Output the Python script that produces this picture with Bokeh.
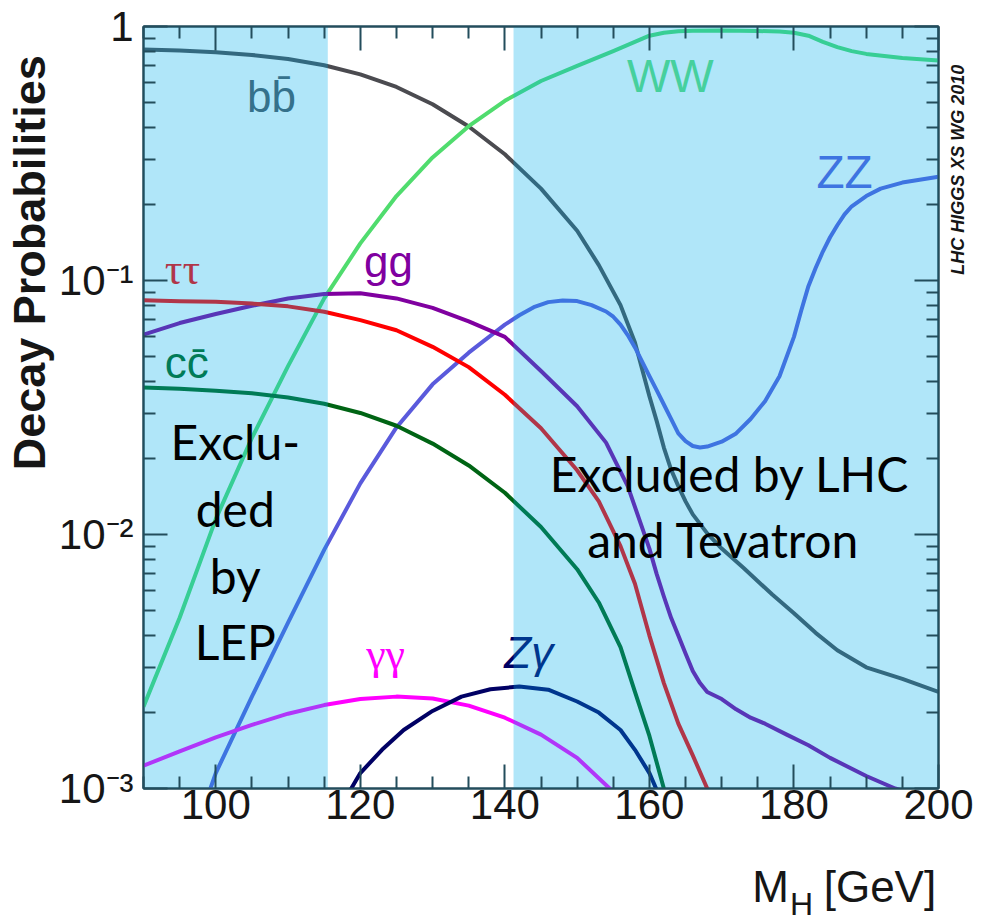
import math
from bokeh.plotting import figure
from bokeh.models import FixedTicker, LinearAxis, LogAxis, CustomJSTickFormatter
from bokeh.core.properties import value
from bokeh.embed import file_html
from bokeh.resources import INLINE

# ---------------- data ----------------
x_ticks = [100, 120, 140, 160, 180, 200]
x_minor = [90, 95, 105, 110, 115, 125, 130, 135, 145, 150, 155, 165, 170, 175, 185, 190, 195]
y_ticks = [0.001, 0.01, 0.1, 1.0]
y_minor = [0.002, 0.003, 0.004, 0.005, 0.006, 0.007, 0.008, 0.009,
           0.02, 0.03, 0.04, 0.05, 0.06, 0.07, 0.08, 0.09,
           0.2, 0.3, 0.4, 0.5, 0.6, 0.7, 0.8, 0.9]
y_tick_labels = ["10\u207b\u00b3", "10\u207b\u00b2", "10\u207b\u00b9", "1"]

lep_excluded = [90.0, 115.5]
lhc_excluded = [141.2, 200.0]

bb_m = [90, 95, 100, 105, 110, 115, 120, 125, 130, 135, 140, 145, 150, 153, 156, 158, 160,
        161, 162, 163, 164, 165, 166, 168, 170, 173, 177, 180, 183, 186, 190, 195, 200]
bb_br = [0.812, 0.804, 0.791, 0.773, 0.745, 0.704, 0.648, 0.578, 0.494, 0.404, 0.314, 0.230,
         0.157, 0.115, 0.080, 0.057, 0.035, 0.028, 0.022, 0.018, 0.0155, 0.0135, 0.0120,
         0.0101, 0.0088, 0.0074, 0.0058, 0.0049, 0.0041, 0.0035, 0.0030, 0.0027, 0.0024]

tau_m = [90, 95, 100, 105, 110, 115, 120, 125, 130, 135, 140, 145, 150, 153, 156, 158, 160,
         162, 164, 166, 168, 170, 175]
tau_br = [0.0837, 0.0829, 0.0825, 0.0811, 0.0791, 0.0753, 0.0698, 0.0637, 0.0548, 0.0456,
          0.0355, 0.0262, 0.0179, 0.0135, 0.0090, 0.0064, 0.0040, 0.0026, 0.0018, 0.00135,
          0.00100, 0.00090, 0.00075]

cc_m = [90, 95, 100, 105, 110, 115, 120, 125, 130, 135, 140, 145, 150, 153, 156, 158, 160, 162, 164]
cc_br = [0.0379, 0.0375, 0.0368, 0.0360, 0.0346, 0.0327, 0.0301, 0.0268, 0.0228, 0.0187,
         0.0146, 0.0107, 0.0073, 0.0054, 0.0036, 0.0024, 0.00161, 0.00100, 0.00062]

gg_m = [90, 95, 100, 105, 110, 115, 120, 125, 130, 135, 140, 145, 150, 154, 157, 160, 161,
        162, 163, 164, 165, 166, 167, 168, 170, 172, 174, 176, 179, 182, 185, 190, 194, 200]
gg_br = [0.0612, 0.0680, 0.0738, 0.0795, 0.0850, 0.0885, 0.0890, 0.0850, 0.0780, 0.0690,
         0.0600, 0.0440, 0.0320, 0.0230, 0.0155, 0.0088, 0.0070, 0.0057, 0.0047, 0.0040,
         0.0034, 0.0029, 0.0026, 0.0024, 0.00225, 0.00205, 0.0019, 0.0018, 0.00163,
         0.00148, 0.00132, 0.00112, 0.00100, 0.00088]

ww_m = [90, 95, 100, 105, 110, 115, 120, 125, 130, 135, 140, 145, 150, 155, 160, 162, 164,
        166, 170, 175, 178, 180, 182, 184, 186, 188, 190, 195, 200]
ww_br = [0.0021, 0.0047, 0.0115, 0.024, 0.046, 0.085, 0.140, 0.215, 0.305, 0.405, 0.51, 0.61,
         0.70, 0.80, 0.92, 0.945, 0.958, 0.963, 0.965, 0.96, 0.955, 0.945, 0.92, 0.87, 0.83,
         0.80, 0.78, 0.752, 0.735]

zz_m = [95, 100, 105, 110, 115, 120, 125, 130, 135, 140, 142, 144, 146, 148, 150, 152, 154,
        155, 156, 157, 158, 160, 161, 162, 163, 164, 165, 166, 167, 168, 170, 172, 174, 176,
        178, 180, 181, 182, 183, 184, 185, 186, 187, 188, 190, 192, 195, 200]
zz_br = [0.00045, 0.00115, 0.0023, 0.0045, 0.0087, 0.0159, 0.0264, 0.039, 0.052, 0.067,
         0.073, 0.0785, 0.0822, 0.0835, 0.0830, 0.0800, 0.0755, 0.0720, 0.0670, 0.0610,
         0.0545, 0.0420, 0.0370, 0.0325, 0.0285, 0.0250, 0.0233, 0.0223, 0.0220, 0.0222,
         0.0232, 0.0250, 0.0285, 0.0335, 0.042, 0.060, 0.076, 0.095, 0.112, 0.130, 0.148,
         0.165, 0.182, 0.196, 0.215, 0.230, 0.243, 0.256]

gaga_m = [90, 95, 100, 105, 110, 115, 120, 125, 130, 135, 140, 145, 150, 155, 158]
gaga_br = [0.00123, 0.00140, 0.00159, 0.00178, 0.00197, 0.00213, 0.00225, 0.00230, 0.00226,
           0.00212, 0.00190, 0.00163, 0.00132, 0.00097, 0.00075]

za_m = [115, 118, 120, 123, 126, 130, 134, 138, 142, 146, 150, 153, 156, 158, 160, 162]
za_br = [0.00060, 0.00092, 0.00115, 0.00142, 0.00170, 0.00202, 0.00230, 0.00246, 0.00252,
         0.00245, 0.00220, 0.00199, 0.00170, 0.00142, 0.00115, 0.00085]

# ---------------- styling ----------------
AX = "#234d5c"
SANS = "Liberation Sans"
SERIF = "Liberation Serif"
TXT = "#161616"

p = figure(width=981, height=924, y_axis_type="log", x_range=(90, 200), y_range=(1e-3, 1),
           output_backend="svg", toolbar_location=None,
           min_border_left=143, min_border_right=43, min_border_top=26, min_border_bottom=135)
p.xgrid.visible = False
p.ygrid.visible = False
p.background_fill_color = "white"
p.border_fill_color = "white"
p.outline_line_color = AX
p.outline_line_width = 2

bottom = p.below[0]
left = p.left[0]

xt = FixedTicker(ticks=x_ticks, minor_ticks=x_minor)
yt = FixedTicker(ticks=y_ticks, minor_ticks=y_minor)

def label_fmt(ticks, labels):
    return CustomJSTickFormatter(args=dict(ts=ticks, ls=labels), code="""
let best = -1, d = Infinity;
for (let i = 0; i < ts.length; i++) {
  const di = Math.abs(Math.log(ts[i]) - Math.log(tick));
  if (di < d) { d = di; best = i; }
}
return (best >= 0 && d < 1e-6) ? ls[best] : '';
""")

def lin_fmt(ticks, labels):
    return CustomJSTickFormatter(args=dict(ts=ticks, ls=labels), code="""
let best = -1, d = Infinity;
for (let i = 0; i < ts.length; i++) {
  const di = Math.abs(ts[i] - tick);
  if (di < d) { d = di; best = i; }
}
return (best >= 0 && d < 1e-6) ? ls[best] : '';
""")

blank = CustomJSTickFormatter(code="return '';")

top = LinearAxis()
right = LogAxis()
p.add_layout(top, "above")
p.add_layout(right, "right")

for ax in [bottom, left, top, right]:
    ax.axis_line_color = AX
    ax.axis_line_width = 2
    ax.major_tick_line_color = AX
    ax.minor_tick_line_color = AX
    ax.major_tick_line_width = 2
    ax.minor_tick_line_width = 2
    ax.major_tick_in = 24
    ax.major_tick_out = 0
    ax.minor_tick_in = 12
    ax.minor_tick_out = 0
    ax.major_label_text_font = SANS
    ax.major_label_text_font_size = "42px"
    ax.major_label_text_color = TXT

bottom.ticker = xt
top.ticker = xt
left.ticker = yt
right.ticker = yt
left.formatter = label_fmt(y_ticks, y_tick_labels)
bottom.major_label_standoff = 1
left.major_label_standoff = 10
for ax in [top, right]:
    ax.formatter = blank
    ax.major_label_standoff = 0
    ax.major_label_text_font_size = "1px"

def text_axis(cls, ticks, fmt, size, standoff, style="normal", orient="horizontal"):
    a = cls(ticker=FixedTicker(ticks=ticks), formatter=fmt)
    a.axis_line_color = None
    a.major_tick_line_color = None
    a.minor_tick_line_color = None
    a.major_tick_out = 0
    a.major_tick_in = 0
    a.major_label_text_font = SANS
    a.major_label_text_font_size = size
    a.major_label_text_font_style = style
    a.major_label_text_color = TXT
    a.major_label_standoff = standoff
    a.major_label_orientation = orient
    return a

# axis titles (placed as tick labels of label-only axes so they sit outside the frame)
ylab_pos = [0.1175]
ylab_txt = ["Decay Probabilities"]
p.add_layout(text_axis(LogAxis, ylab_pos, label_fmt(ylab_pos, ylab_txt), "45px", 0,
                       style="bold", orient="vertical"), "left")

credit_pos = [0.3375]
credit_txt = ["LHC HIGGS XS WG 2010"]
p.add_layout(text_axis(LogAxis, credit_pos, label_fmt(credit_pos, credit_txt), "18px", 20,
                       style="bold italic", orient=math.pi / 2), "right")

xlab_pos = [176.75, 191.9]
xlab_txt = ["M", "[GeV]"]
p.add_layout(text_axis(LinearAxis, xlab_pos, lin_fmt(xlab_pos, xlab_txt), "44px", 40), "below")
xsub_pos = [181.04]
xsub_txt = ["H"]
p.add_layout(text_axis(LinearAxis, xsub_pos, lin_fmt(xsub_pos, xsub_txt), "32px", -28), "below")

# ---------------- curves ----------------
lw = 4
p.line(bb_m, bb_br, line_color="#4b4b50", line_width=lw, line_join="round")
p.line(ww_m, ww_br, line_color="#50dc6e", line_width=lw, line_join="round")
p.line(zz_m, zz_br, line_color="#5a5adc", line_width=lw, line_join="round")
p.line(gg_m, gg_br, line_color="#8000a0", line_width=lw, line_join="round")
p.line(tau_m, tau_br, line_color="#ff0000", line_width=lw, line_join="round")
p.line(cc_m, cc_br, line_color="#006414", line_width=lw, line_join="round")
p.line(gaga_m, gaga_br, line_color="#ff00ff", line_width=lw, line_join="round")
p.line(za_m, za_br, line_color="#000064", line_width=lw, line_join="round")

def txt(x, y, s, color, size, font=SANS, style="normal", align="center"):
    p.text(x=[x], y=[y], text=[s], text_color=color, text_font=value(font),
           text_font_size=size, text_font_style=style, text_align=align,
           text_baseline="alphabetic")

# channel labels (under the band overlay, like the original)
txt(107.7, 0.528, "bb\u0304", "#4e5660", "44px")
txt(95.4, 0.1103, "\u03c4\u03c4", "#ff0000", "44px", font=SERIF)
txt(123.9, 0.1185, "gg", "#8000a0", "44px")
txt(96.0, 0.0475, "cc\u0304", "#006414", "44px")
txt(162.9, 0.636, "WW", "#66e07a", "46px")
txt(187.0, 0.267, "ZZ", "#5a5adc", "46px")
txt(123.5, 0.00338, "\u03b3\u03b3", "#ff00ff", "44px", font=SERIF)
txt(143.3, 0.00344, "Z\u03b3", "#000064", "44px", style="italic")

# ---------------- excluded bands (translucent overlay) ----------------
p.quad(left=[lep_excluded[0], lhc_excluded[0]], right=[lep_excluded[1], lhc_excluded[1]],
       bottom=[y_ticks[0]] * 2, top=[y_ticks[-1]] * 2,
       fill_color="#00afeb", fill_alpha=0.31, line_color=None)

# band texts
for s, yy in [("Exclu-", 0.02329), ("ded", 0.01270), ("by", 0.006926), ("LEP", 0.003777)]:
    txt(102.7, yy, s, "#000000", "48px", font="Lato")
txt(171.1, 0.01744, "Excluded by LHC", "#000000", "48px", font="Lato")
txt(170.25, 0.00959, "and Tevatron", "#000000", "48px", font="Lato")

open("out.html", "w").write(file_html(p, INLINE))
